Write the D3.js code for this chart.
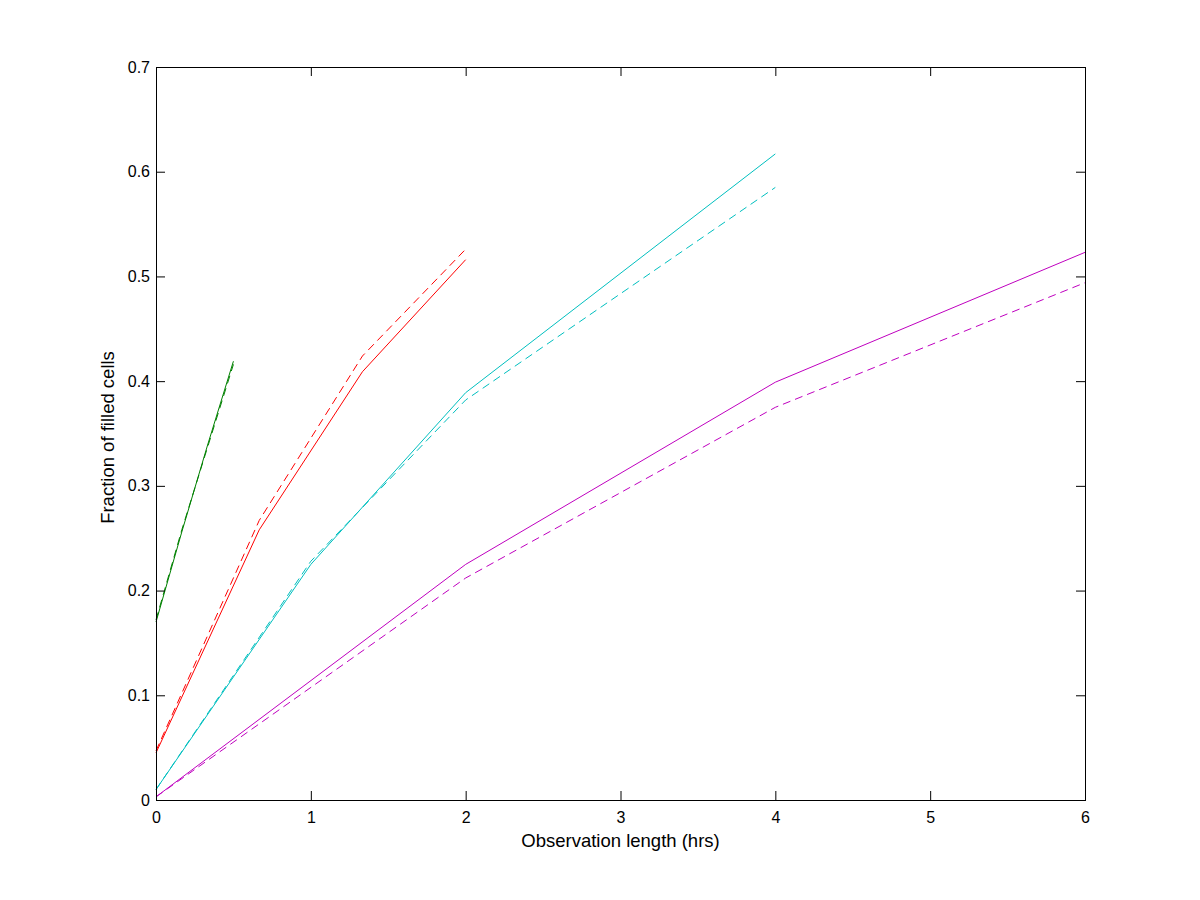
<!DOCTYPE html>
<html>
<head>
<meta charset="utf-8">
<script src="https://cdn.jsdelivr.net/npm/d3@7"></script>
<style>
  body { margin: 0; background: #fff; }
  text { font-family: "Liberation Sans", Arial, sans-serif; fill: #000; }
</style>
</head>
<body>
<svg id="chart" width="1200" height="900"></svg>
<script>
// hours of observation for each run
const greenX = [0, 0.1667, 0.3333, 0.5];
const redX = [0, 0.6667, 1.3333, 2];
const cyanX = [0, 1, 2, 4];
const magentaX = [0, 2, 4, 6];

// fraction of filled cells, solid and dashed
const greenSolid = [0.170, 0.256, 0.339, 0.419];
const greenDashed = [0.172, 0.258, 0.337, 0.416];
const redSolid = [0.045, 0.258, 0.409, 0.516];
const redDashed = [0.047, 0.267, 0.424, 0.526];
const cyanSolid = [0.010, 0.225, 0.389, 0.617];
const cyanDashed = [0.010, 0.228, 0.382, 0.585];
const magentaSolid = [0.003, 0.225, 0.399, 0.523];
const magentaDashed = [0.003, 0.212, 0.375, 0.494];

const xTicks = [0, 1, 2, 3, 4, 5, 6];
const yTicks = [0, 0.1, 0.2, 0.3, 0.4, 0.5, 0.6, 0.7];

const series = [
  { x: greenX, y: greenSolid, color: '#008000', dash: null },
  { x: greenX, y: greenDashed, color: '#008000', dash: '8,5' },
  { x: redX, y: redSolid, color: '#ff0000', dash: null },
  { x: redX, y: redDashed, color: '#ff0000', dash: '8,5' },
  { x: cyanX, y: cyanSolid, color: '#00bfbf', dash: null },
  { x: cyanX, y: cyanDashed, color: '#00bfbf', dash: '8,5' },
  { x: magentaX, y: magentaSolid, color: '#bf00bf', dash: null },
  { x: magentaX, y: magentaDashed, color: '#bf00bf', dash: '8,5' },
];

const margin = { top: 67, right: 115, bottom: 100, left: 156 };
const width = 1200 - margin.left - margin.right;
const height = 900 - margin.top - margin.bottom;

const svg = d3.select('#chart');
const g = svg.append('g').attr('transform', `translate(${margin.left},${margin.top})`);

const xScale = d3.scaleLinear().domain([0, 6]).range([0, width]);
const yScale = d3.scaleLinear().domain([0, 0.7]).range([height, 0]);

// lines
const line = d3.line()
  .x(d => xScale(d[0]))
  .y(d => yScale(d[1]));

series.forEach(s => {
  g.append('path')
    .datum(s.x.map((v, i) => [v, s.y[i]]))
    .attr('fill', 'none')
    .attr('stroke', s.color)
    .attr('stroke-width', 1)
    .attr('stroke-dasharray', s.dash)
    .attr('d', line);
});

// axes, matlab style: ticks inside on all four sides
const tick = 9;
g.append('g')
  .attr('transform', `translate(0,${height})`)
  .call(d3.axisBottom(xScale).tickValues(xTicks).tickSizeInner(-tick).tickSizeOuter(0).tickPadding(12).tickFormat(d3.format('d')));
g.append('g')
  .call(d3.axisTop(xScale).tickValues(xTicks).tickSizeInner(-tick).tickSizeOuter(0).tickFormat(''));
g.append('g')
  .call(d3.axisLeft(yScale).tickValues(yTicks).tickSizeInner(-tick).tickSizeOuter(0).tickPadding(6).tickFormat(d => d === 0 ? '0' : d3.format('.1f')(d)));
g.append('g')
  .attr('transform', `translate(${width},0)`)
  .call(d3.axisRight(yScale).tickValues(yTicks).tickSizeInner(-tick).tickSizeOuter(0).tickFormat(''));

g.selectAll('.domain').attr('stroke', '#000');
g.selectAll('.tick line').attr('stroke', '#000');
g.selectAll('.tick text')
  .style('font-family', '"Liberation Sans", Arial, sans-serif')
  .style('font-size', '16px')
  .attr('fill', '#000');

// frame
g.append('rect')
  .attr('width', width)
  .attr('height', height)
  .attr('fill', 'none')
  .attr('stroke', '#000')
  .attr('shape-rendering', 'crispEdges');

// axis labels
g.append('text')
  .attr('x', width / 2)
  .attr('y', height + 47)
  .attr('text-anchor', 'middle')
  .style('font-size', '18.5px')
  .text('Observation length (hrs)');

g.append('text')
  .attr('transform', 'rotate(-90)')
  .attr('x', -height / 2 - 4)
  .attr('y', -42)
  .attr('text-anchor', 'middle')
  .style('font-size', '18.5px')
  .text('Fraction of filled cells');
</script>
</body>
</html>
